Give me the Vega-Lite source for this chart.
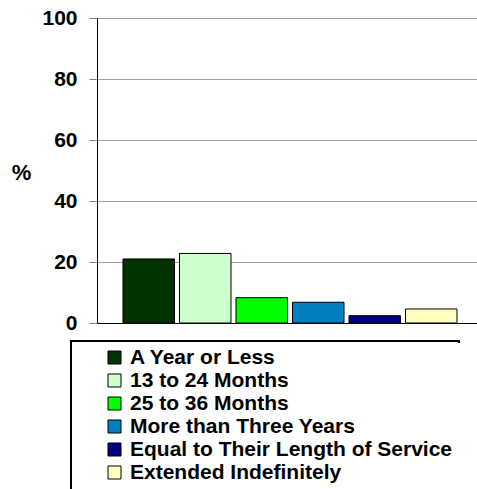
{
  "$schema": "https://vega.github.io/schema/vega-lite/v6.json",
  "width": 380,
  "height": 305,
  "autosize": "none",
  "padding": {"left": 97, "top": 18, "right": 0, "bottom": 166},
  "background": "white",
  "data": {
    "values": [
      {"category": "A Year or Less", "pct": 21.0},
      {"category": "13 to 24 Months", "pct": 22.8},
      {"category": "25 to 36 Months", "pct": 8.3},
      {"category": "More than Three Years", "pct": 6.8},
      {"category": "Equal to Their Length of Service", "pct": 2.4},
      {"category": "Extended Indefinitely", "pct": 4.6}
    ]
  },
  "mark": {"type": "bar", "stroke": "black"},
  "encoding": {
    "x": {
      "field": "category",
      "type": "nominal",
      "sort": null,
      "scale": {"paddingInner": 0.0885, "paddingOuter": 0.407, "align": 0.565},
      "axis": {"labels": false, "ticks": false, "title": null, "domainColor": "black", "domainWidth": 1, "grid": false}
    },
    "y": {
      "field": "pct",
      "type": "quantitative",
      "scale": {"domain": [0, 100], "nice": false},
      "axis": {
        "values": [0, 20, 40, 60, 80, 100],
        "title": "%",
        "titleAngle": 0,
        "titleX": -76,
        "titleY": 154,
        "titleAlign": "center",
        "titleBaseline": "middle",
        "titleFontSize": 22,
        "titleFontWeight": "bold",
        "titleFont": "Liberation Sans",
        "titleColor": "black",
        "labelFont": "Liberation Sans",
        "labelFontSize": 21,
        "labelFontWeight": "bold",
        "labelColor": "black",
        "labelPadding": 12,
        "tickSize": 8,
        "tickColor": "#808080",
        "domainColor": "black",
        "gridColor": "#a0a0a0",
        "grid": true
      }
    },
    "fill": {
      "field": "category",
      "type": "nominal",
      "sort": null,
      "scale": {
        "domain": ["A Year or Less", "13 to 24 Months", "25 to 36 Months", "More than Three Years", "Equal to Their Length of Service", "Extended Indefinitely"],
        "range": ["#003300", "#ccffcc", "#00ff00", "#0080c0", "#000080", "#ffffc0"]
      },
      "legend": {
        "orient": "none",
        "legendX": -26,
        "legendY": 323,
        "title": "\u00a0",
        "titleOrient": "bottom",
        "titleFontSize": 14,
        "titlePadding": 0,
        "strokeColor": "black",
        "padding": 6,
        "symbolType": "square",
        "symbolSize": 169,
        "symbolOffset": 27,
        "symbolStrokeColor": "black",
        "symbolStrokeWidth": 1,
        "labelFont": "Liberation Sans",
        "labelFontSize": 21,
        "labelFontWeight": "bold",
        "labelColor": "black",
        "labelOffset": 5,
        "rowPadding": 1,
        "labelLimit": 0,
        "encode": {"legend": {"update": {"strokeWidth": {"value": 2}, "strokeDash": {"value": [390, 520, 300]}}}}
      }
    },
    "strokeWidth": {
      "field": "category",
      "type": "nominal",
      "sort": null,
      "scale": {
        "domain": ["A Year or Less", "13 to 24 Months", "25 to 36 Months", "More than Three Years", "Equal to Their Length of Service", "Extended Indefinitely"],
        "range": [1, 1, 1, 2, 2, 2]
      },
      "legend": null
    }
  },
  "config": {
    "view": {"stroke": null},
    "font": "Liberation Sans"
  }
}
